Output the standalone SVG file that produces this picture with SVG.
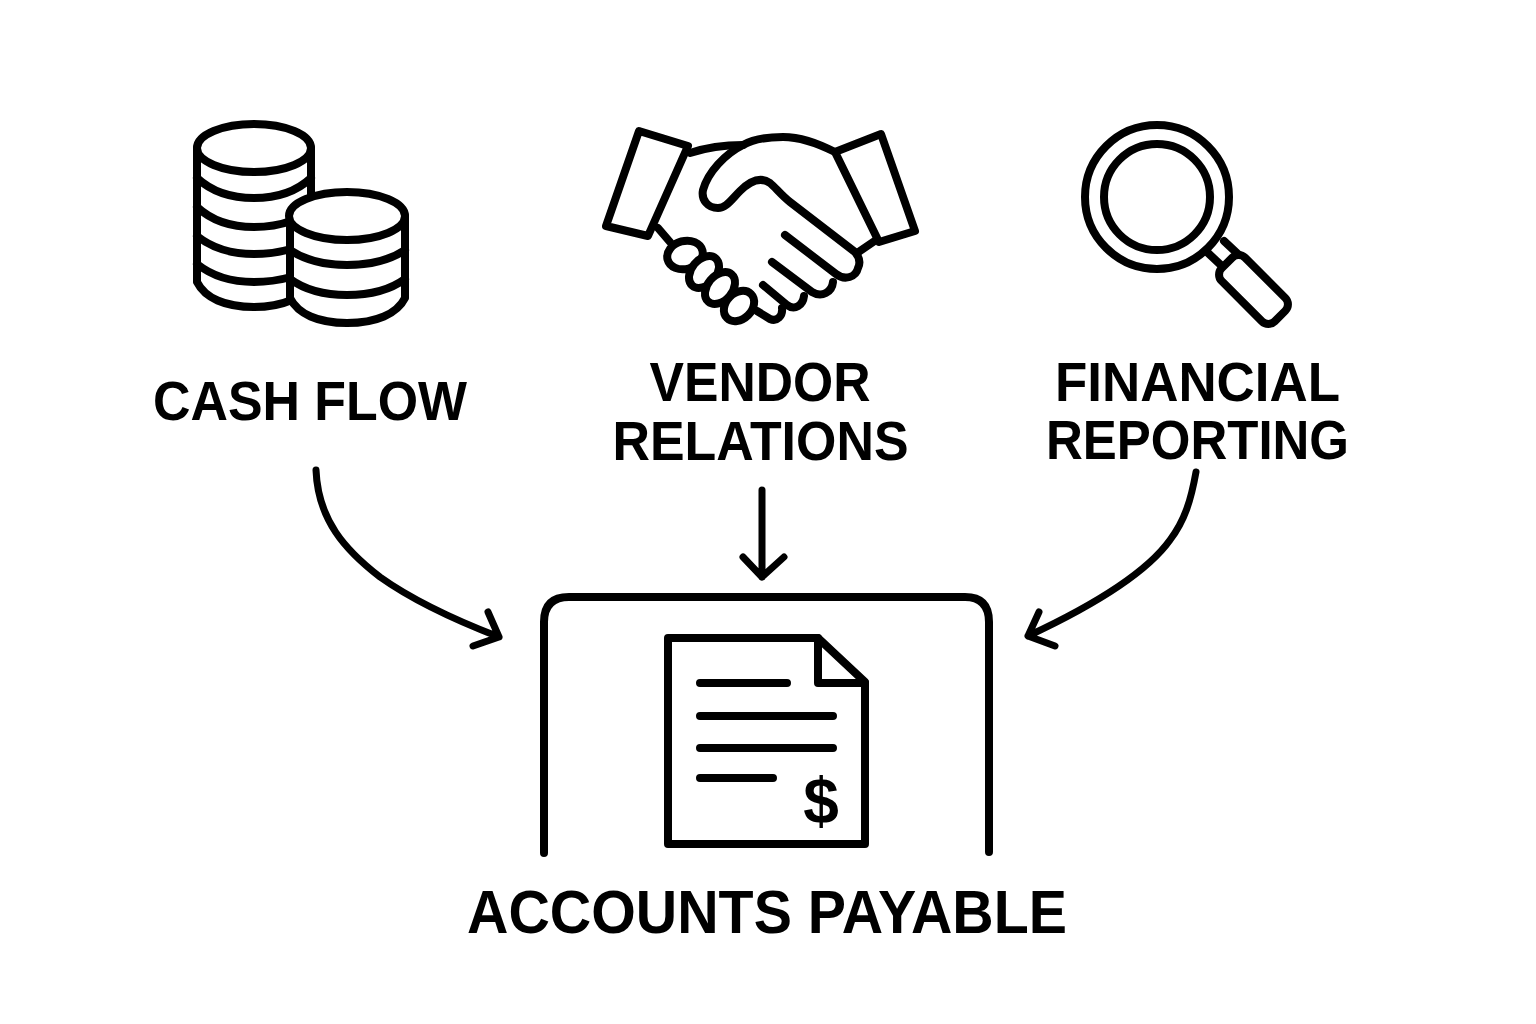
<svg xmlns="http://www.w3.org/2000/svg" width="1536" height="1024" viewBox="0 0 1536 1024">
<style>
.s{fill:none;stroke:#000;stroke-width:8;stroke-linecap:round;stroke-linejoin:round}
.c{fill:none;stroke:#000;stroke-width:7;stroke-linecap:round;stroke-linejoin:round}
.w{fill:#fff;stroke:#000;stroke-width:8;stroke-linejoin:round;stroke-linecap:round}
.t{font-family:"Liberation Sans",Arial,sans-serif;font-weight:700;fill:#000;text-anchor:middle}
</style>
<rect width="1536" height="1024" fill="#fff"/>
<g id="cash-flow">
<path class="w" d="M197 148V282C205 298 225 307 254 307C283 307 303 298 311 282V148"/>
<ellipse class="w" cx="254" cy="148" rx="57" ry="24"/>
<path class="s" d="M197 178C212 192 232 198 254 198C276 198 296 192 311 178M197 207C212 221 232 227 254 227C268 227 280 225 291 221M197 236C212 248 232 254 254 254C268 254 280 252 291 249M197 264C212 276 232 282 254 282C268 282 280 280 291 277"/>
<path class="w" d="M290 216V298C298 314 318 323 347 323C376 323 397 314 405 298V216"/>
<ellipse class="w" cx="347" cy="216" rx="58" ry="24"/>
<path class="s" d="M290 250C305 260 325 265 347 265C369 265 390 260 405 250M290 279C305 290 325 295 347 295C369 295 390 290 405 279"/>
<text class="t" x="310" y="420" font-size="55" textLength="314" lengthAdjust="spacingAndGlyphs">CASH FLOW</text>
</g>
<g id="vendor-relations">
<path class="s" d="M690 153C708 147 725 145 743 145"/>
<path class="s" d="M835 152C815 142 800 137 783 137C765 137 752 140 743 145C725 154 708 172 703 190C701 200 708 208 718 208C726 208 731 200 740 191C750 181 760 176 770 183C775 187 782 196 790 202L855 252C860 258 860 264 858 268C856 277 845 281 836 274L785 235"/>
<path class="s" d="M857 253L879 238"/>
<path class="s" d="M658 228L670 242"/>
<path class="s" d="M772 262L812 292C822 298 832 292 833 282"/>
<path class="s" d="M763 285L787 305C795 311 803 305 804 296"/>
<path class="s" d="M757 311L770 319C777 322 783 316 782 308"/>
<path class="w" d="M639 131L688 146L648 236L606 226Z"/>
<path class="w" d="M881 134L835 152L879 242L915 231Z"/>
<ellipse class="w" cx="685" cy="255" rx="18" ry="14" transform="rotate(-15 685 255)"/>
<ellipse class="w" cx="704" cy="272" rx="12.500" ry="18" transform="rotate(40 704 272)"/>
<ellipse class="w" cx="720" cy="288" rx="12.500" ry="18" transform="rotate(40 720 288)"/>
<ellipse class="w" cx="739" cy="306" rx="13" ry="17" transform="rotate(45 739 306)"/>
<text class="t" x="760" y="401" font-size="55" textLength="221" lengthAdjust="spacingAndGlyphs">VENDOR</text>
<text class="t" x="760.500" y="460" font-size="55" textLength="296" lengthAdjust="spacingAndGlyphs">RELATIONS</text>
</g>
<g id="financial-reporting">
<circle class="s" cx="1157" cy="197" r="72"/>
<circle class="s" cx="1157" cy="197" r="53"/>
<path class="s" d="M1207 252L1224 268M1224 241L1240 256"/>
<rect class="w" x="1216" y="273" width="75" height="33" rx="9" transform="rotate(45 1253.500 289.500)"/>
<text class="t" x="1197.500" y="401" font-size="55" textLength="285" lengthAdjust="spacingAndGlyphs">FINANCIAL</text>
<text class="t" x="1197.500" y="459" font-size="55" textLength="303" lengthAdjust="spacingAndGlyphs">REPORTING</text>
</g>
<g id="accounts-payable">
<path class="s" d="M544 853V622Q544 597 569 597H965Q989 597 989 622V852"/>
<path class="s" d="M668 638H818L865 682V844H668Z"/>
<path class="s" d="M818 638V683H865"/>
<path class="s" d="M700 683H787M700 716H833M700 748H833M700 778H773"/>
<text class="t" x="821" y="823" font-size="64">$</text>
<text class="t" x="767" y="933" font-size="61" textLength="600" lengthAdjust="spacingAndGlyphs">ACCOUNTS PAYABLE</text>
</g>
<g id="connectors">
<path class="c" d="M316 470C318 520 345 550 380 577C415 602 455 620 499 637M488 612L499 637L473 646"/>
<path class="c" d="M762 490L762 577M743 557L762 577L784 557"/>
<path class="c" d="M1196 472C1191 500 1185 520 1170 540C1150 568 1105 600 1028 636M1039 612L1028 636L1055 646"/>
</g>
</svg>
